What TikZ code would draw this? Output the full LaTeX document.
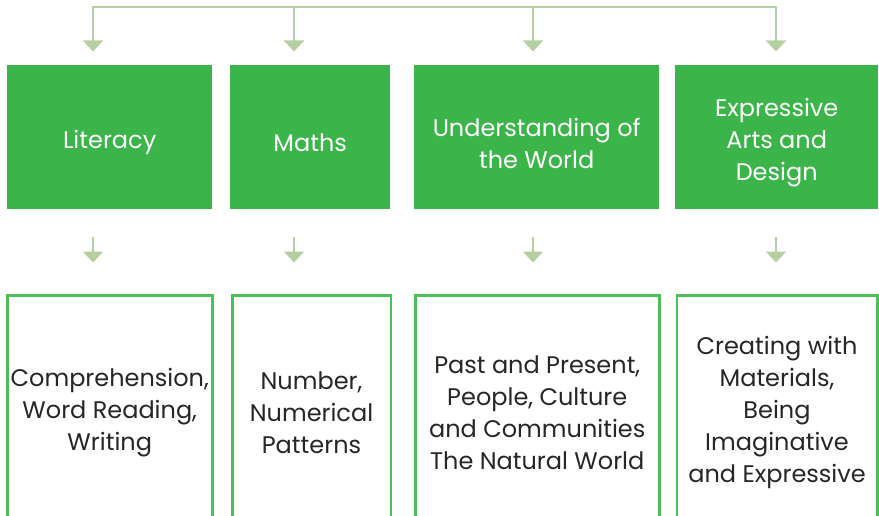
\documentclass[tikz,border=0pt]{standalone}
\usepackage{fontspec}
\setmainfont{Poppins}
\usetikzlibrary{arrows.meta}
\definecolor{areagreen}{HTML}{3BB54A}
\definecolor{edgegreen}{HTML}{4CBF56}
\definecolor{linkgreen}{HTML}{B6CFA0}
\definecolor{textgrey}{HTML}{262626}
\tikzset{
	area/.style={fill=areagreen, anchor=north west, inner sep=0pt, minimum height=143.5pt},
	areatext/.style={text=white, align=center, inner sep=0pt, yshift=-6pt, font=\fontsize{24}{32}\selectfont},
	goal/.style={draw=edgegreen, line width=2.5pt, anchor=north west, inner sep=0pt, minimum height=230pt},
	goaltext/.style={text=textgrey, align=center, inner sep=0pt, yshift=-2pt, font=\fontsize{24}{32}\selectfont},
	link/.style={draw=linkgreen, line width=2pt},
	drop/.style={link, -{Triangle[width=20pt,length=11pt]}},
}

\begin{document}
\begin{tikzpicture}[x=1pt, y=-1pt]
	% page 879 x 516, bottom boxes run off the page
	\useasboundingbox (0,0) rectangle (879,516);
	\clip (0,0) rectangle (879,516);

	% areas of learning
	\node[area, minimum width=205pt, label={[areatext]center:Literacy}] (lit) at (7,65) {};
	\node[area, minimum width=160pt, label={[areatext]center:Maths}] (mat) at (230,65) {};
	\node[area, minimum width=245pt, label={[areatext]center:Understanding of\\the World}] (und) at (414,65) {};
	\node[area, minimum width=203pt, label={[areatext]center:Expressive\\Arts and\\Design}] (exp) at (675,65) {};

	% goals
	\node[goal, minimum width=205pt, label={[goaltext]center:Comprehension,\\Word Reading,\\Writing}] (litgoal) at (6,294) {};
	\node[goal, minimum width=158.5pt, label={[goaltext]center:Number,\\Numerical\\Patterns}] (matgoal) at (231,294) {};
	\node[goal, minimum width=244pt, label={[goaltext]center:Past and Present,\\People, Culture\\and Communities\\The Natural World}] (undgoal) at (414,294) {};
	\node[goal, minimum width=200.5pt, label={[goaltext]center:Creating with\\Materials,\\Being\\Imaginative\\and Expressive}] (expgoal) at (675.5,294) {};

	% top bus
	\coordinate (t1) at (93,7);
	\coordinate (t2) at (294,7);
	\coordinate (t3) at (533,7);
	\coordinate (t4) at (776,7);
	\draw[link, line cap=rect] (t1) -- (t4);
	\draw[drop, shorten >=13.5pt] (t1) -- (t1 |- lit.north);
	\draw[drop, shorten >=13.5pt] (t2) -- (t2 |- mat.north);
	\draw[drop, shorten >=13.5pt] (t3) -- (t3 |- und.north);
	\draw[drop, shorten >=13.5pt] (t4) -- (t4 |- exp.north);

	% areas to goals
	\draw[drop, shorten <=28.5pt, shorten >=31.5pt] (t1 |- lit.south) -- (t1 |- litgoal.north);
	\draw[drop, shorten <=28.5pt, shorten >=31.5pt] (t2 |- mat.south) -- (t2 |- matgoal.north);
	\draw[drop, shorten <=28.5pt, shorten >=31.5pt] (t3 |- und.south) -- (t3 |- undgoal.north);
	\draw[drop, shorten <=28.5pt, shorten >=31.5pt] (t4 |- exp.south) -- (t4 |- expgoal.north);
\end{tikzpicture}
\end{document}
